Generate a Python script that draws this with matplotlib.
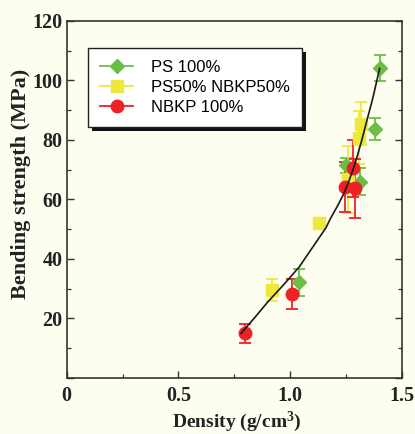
import matplotlib
matplotlib.use("Agg")
import matplotlib.pyplot as plt
from matplotlib.ticker import MultipleLocator, FixedLocator, FixedFormatter
from matplotlib.patches import Rectangle
from matplotlib.transforms import IdentityTransform

plt.rcParams["mathtext.fontset"] = "custom"
plt.rcParams["mathtext.rm"] = "Liberation Serif:bold"
plt.rcParams["mathtext.bf"] = "Liberation Serif:bold"
plt.rcParams["mathtext.it"] = "Liberation Serif:bold"

# Data
ps_x = [1.400, 1.379, 1.248, 1.311, 1.040]
ps_y = [104.1, 83.8, 71.4, 65.9, 32.1]
ps_err = [4.3, 3.7, 2.5, 4.5, 4.5]

mix_x = [0.919, 1.130, 1.258, 1.309, 1.318]
mix_y = [29.5, 52.2, 66.7, 80.8, 85.5]
mix_err = [3.7, 1.0, 11.4, 9.0, 7.3]

nbkp_x = [0.798, 1.009, 1.247, 1.289, 1.281]
nbkp_y = [15.0, 28.1, 64.2, 63.7, 70.4]
nbkp_err = [3.1, 5.0, 8.4, 10.0, 9.5]

fit_x = [0.78, 0.84, 0.90, 0.97, 1.04, 1.11, 1.16, 1.18, 1.21, 1.24, 1.26, 1.28, 1.30, 1.32, 1.34, 1.37, 1.40]
fit_y = [15.0, 20.2, 25.6, 31.3, 37.3, 45.0, 50.5, 53.6, 57.6, 62.0, 65.7, 69.8, 74.6, 79.9, 85.7, 94.2, 104.0]

labels = ["PS 100%", "PS50% NBKP50%", "NBKP 100%"]
x_ticks = [0, 0.5, 1.0, 1.5]
x_tick_labels = ["0", "0.5", "1.0", "1.5"]
y_ticks = [0, 20, 40, 60, 80, 100, 120]
y_tick_labels = ["", "20", "40", "60", "80", "100", "120"]

bg = "#FDFDF0"
green = "#6CBD45"
yellow = "#EDE83A"
red = "#EC2227"

fig = plt.figure(figsize=(4.15, 4.34), dpi=100, facecolor=bg)
ax = fig.add_axes([0.1607, 0.129, 0.808, 0.823])
ax.set_facecolor(bg)

ax.plot(fit_x, fit_y, color="#1a1a1a", lw=1.2, zorder=4)

common = dict(capsize=4.5, elinewidth=1.3, capthick=1.3, linestyle="none", zorder=3)
ax.errorbar(ps_x, ps_y, yerr=ps_err, color=green, ecolor=green, marker="D",
            markersize=7.5, label=labels[0], **common)
ax.errorbar(mix_x, mix_y, yerr=mix_err, color=yellow, ecolor=yellow, marker="s",
            markersize=9, label=labels[1], **common)
ax.errorbar(nbkp_x, nbkp_y, yerr=nbkp_err, color=red, ecolor=red, marker="o",
            markersize=9, label=labels[2], **common)

ax.set_xlim(0, 1.5)
ax.set_ylim(0, 120)
ax.xaxis.set_major_locator(FixedLocator(x_ticks))
ax.xaxis.set_major_formatter(FixedFormatter(x_tick_labels))
ax.xaxis.set_minor_locator(MultipleLocator(0.25))
ax.yaxis.set_major_locator(FixedLocator(y_ticks))
ax.yaxis.set_major_formatter(FixedFormatter(y_tick_labels))
ax.yaxis.set_minor_locator(MultipleLocator(10))
ax.tick_params(which="both", direction="in", top=False, right=True, color="#333333")
ax.tick_params(which="major", length=5, width=1.0)
ax.tick_params(which="minor", length=3, width=0.9)
for s in ax.spines.values():
    s.set_color("#333333")
    s.set_linewidth(1.2)

for lab in ax.get_xticklabels() + ax.get_yticklabels():
    lab.set_fontfamily("Liberation Serif")
    lab.set_fontweight("bold")
    lab.set_fontsize(14.5)
    lab.set_color("#222222")
ax.tick_params(axis="x", pad=6)
ax.tick_params(axis="y", pad=3)

ax.set_xlabel("Density (g/cm$^{3}$)", family="Liberation Serif", weight="bold",
              size=14, color="#222222")
ax.set_ylabel("Bending strength (MPa)", family="Liberation Serif", weight="bold",
              size=16, color="#222222")
ax.xaxis.set_label_coords(0.507, -0.088)
ax.yaxis.set_label_coords(-0.106, 0.543)

handles = [
    plt.Line2D([], [], color=green, marker="D", markersize=7.5, lw=1.3),
    plt.Line2D([], [], color=yellow, marker="s", markersize=9, lw=1.3),
    plt.Line2D([], [], color=red, marker="o", markersize=9, lw=1.3),
]
leg = ax.legend(handles, labels, loc="upper left", bbox_to_anchor=(0.0635, 0.924),
                borderaxespad=0, frameon=True, fancybox=False, shadow=False,
                prop={"family": "Liberation Sans", "size": 12},
                handlelength=2.0, handletextpad=1.08, labelspacing=0.3,
                borderpad=0.72)
leg.get_frame().set_edgecolor("#222222")
leg.get_frame().set_linewidth(1.0)
leg.get_frame().set_facecolor("white")
leg.get_frame().set_alpha(1.0)
leg.set_zorder(10)

fig.canvas.draw()
bb = leg.get_window_extent()
shadow = Rectangle((bb.x0 + 4, bb.y0 - 4), bb.width, bb.height, transform=IdentityTransform(),
                   facecolor="#111111", edgecolor="none", zorder=9)
ax.add_patch(shadow)

fig.savefig("out.png", dpi=100, facecolor=bg)
